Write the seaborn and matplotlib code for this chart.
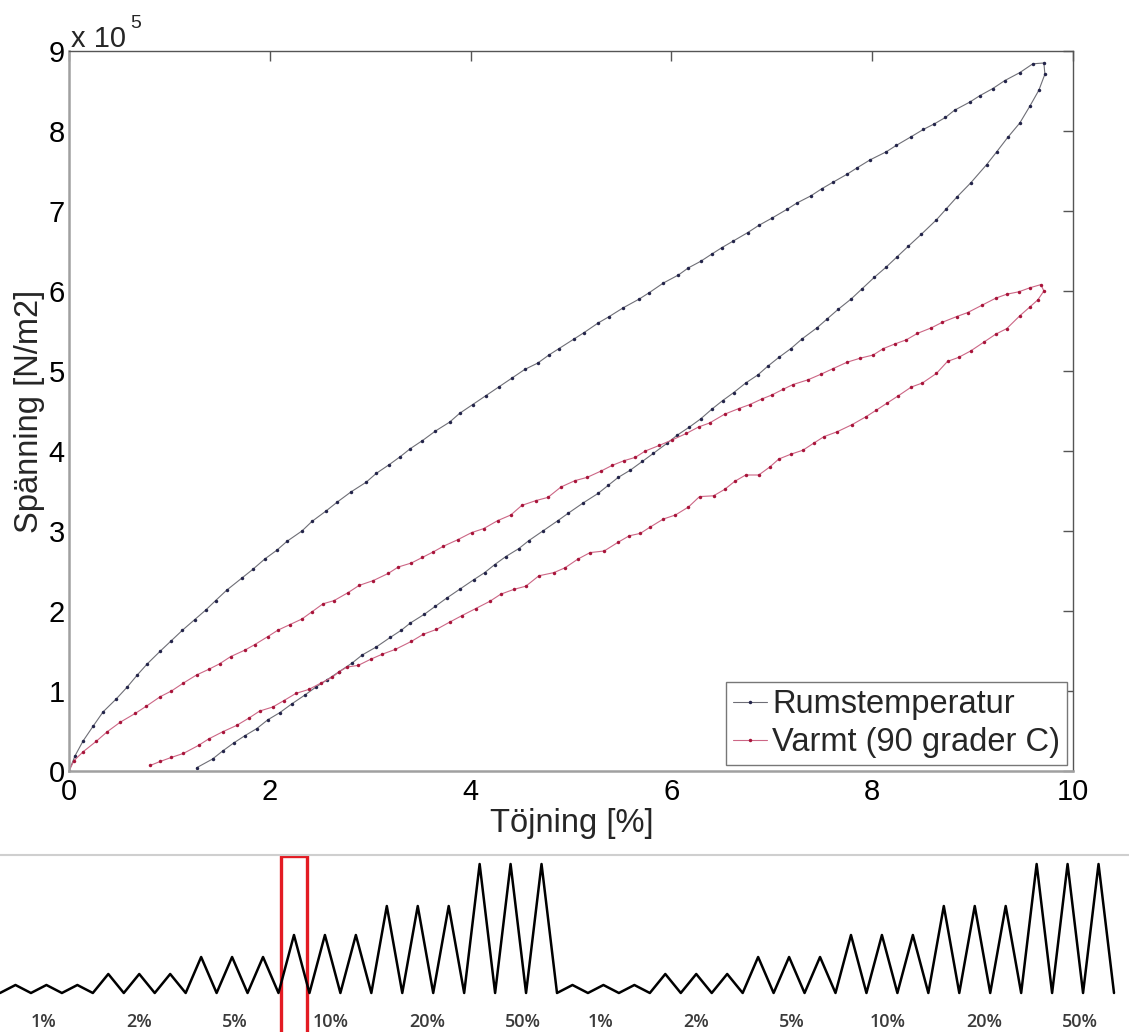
import numpy as np
import pandas as pd
import matplotlib
matplotlib.use("Agg")
import matplotlib.pyplot as plt
import seaborn as sns
from matplotlib.patches import Rectangle

# ---------------- data ----------------
# stress values in units of 1e5 N/m2, strain in %
rum_load_x = [0.00, 0.06, 0.14, 0.24, 0.34, 0.47, 0.58, 0.68, 0.78, 0.91, 1.02, 1.13, 1.25, 1.36, 1.46,
              1.57, 1.72, 1.83, 1.95, 2.07, 2.17, 2.32, 2.42, 2.56, 2.67, 2.81, 2.96, 3.06, 3.19, 3.30,
              3.40, 3.52, 3.65, 3.79, 3.89, 4.02, 4.15, 4.28, 4.41, 4.54, 4.67, 4.78, 4.88, 5.03, 5.13,
              5.27, 5.38, 5.52, 5.68, 5.78, 5.92, 6.07, 6.17, 6.29, 6.40, 6.50, 6.61, 6.76, 6.87, 7.00,
              7.15, 7.25, 7.39, 7.50, 7.61, 7.75, 7.85, 7.98, 8.14, 8.24, 8.39, 8.51, 8.62, 8.73, 8.82,
              8.97, 9.07, 9.20, 9.32, 9.47, 9.60, 9.71]
rum_load_y = [0.00, 0.19, 0.375, 0.56, 0.74, 0.90, 1.05, 1.20, 1.34, 1.50, 1.63, 1.76, 1.89, 2.01, 2.13,
              2.26, 2.41, 2.52, 2.65, 2.76, 2.87, 3.00, 3.12, 3.25, 3.36, 3.49, 3.61, 3.72, 3.83, 3.93,
              4.03, 4.13, 4.25, 4.36, 4.47, 4.58, 4.69, 4.80, 4.91, 5.02, 5.10, 5.20, 5.28, 5.40, 5.48,
              5.60, 5.68, 5.79, 5.90, 5.98, 6.10, 6.20, 6.29, 6.37, 6.46, 6.54, 6.62, 6.73, 6.82, 6.91,
              7.02, 7.10, 7.19, 7.28, 7.36, 7.46, 7.54, 7.64, 7.74, 7.82, 7.93, 8.02, 8.09, 8.17, 8.26,
              8.36, 8.44, 8.53, 8.63, 8.73, 8.84, 8.85]
rum_unload_x = [9.72, 9.66, 9.57, 9.47, 9.35, 9.24, 9.14, 8.98, 8.84, 8.74, 8.64, 8.49, 8.36, 8.25, 8.14,
                8.02, 7.90, 7.79, 7.66, 7.55, 7.45, 7.30, 7.19, 7.07, 6.96, 6.86, 6.74, 6.62, 6.51, 6.40,
                6.29, 6.18, 6.06, 5.96, 5.82, 5.71, 5.59, 5.47, 5.37, 5.27, 5.12, 4.97, 4.87, 4.72, 4.58,
                4.48, 4.35, 4.24, 4.14, 4.03, 3.89, 3.76, 3.65, 3.54, 3.40, 3.31, 3.20, 3.06, 2.92, 2.82,
                2.69, 2.57, 2.46, 2.35, 2.22, 2.10, 1.98, 1.87, 1.75, 1.64, 1.53, 1.43, 1.27]
rum_unload_y = [8.71, 8.51, 8.31, 8.10, 7.92, 7.74, 7.58, 7.35, 7.17, 7.03, 6.89, 6.71, 6.56, 6.43, 6.30,
                6.17, 6.03, 5.90, 5.77, 5.65, 5.54, 5.40, 5.28, 5.17, 5.06, 4.95, 4.85, 4.73, 4.63, 4.52,
                4.40, 4.30, 4.20, 4.10, 3.97, 3.87, 3.76, 3.67, 3.57, 3.47, 3.35, 3.22, 3.13, 3.00, 2.88,
                2.78, 2.68, 2.58, 2.48, 2.39, 2.27, 2.16, 2.06, 1.96, 1.85, 1.76, 1.67, 1.55, 1.45, 1.35,
                1.24, 1.14, 1.05, 0.95, 0.84, 0.73, 0.64, 0.53, 0.44, 0.35, 0.25, 0.15, 0.04]

varm_load_x = [0.00, 0.05, 0.14, 0.27, 0.38, 0.51, 0.66, 0.77, 0.91, 1.02, 1.14, 1.27, 1.39, 1.50, 1.61,
               1.75, 1.85, 1.98, 2.08, 2.20, 2.32, 2.42, 2.53, 2.64, 2.78, 2.89, 3.03, 3.18, 3.28, 3.41,
               3.52, 3.63, 3.73, 3.87, 4.01, 4.13, 4.27, 4.40, 4.51, 4.65, 4.77, 4.90, 5.04, 5.16, 5.30,
               5.41, 5.53, 5.64, 5.74, 5.88, 6.01, 6.15, 6.27, 6.38, 6.53, 6.67, 6.78, 6.90, 7.00, 7.11,
               7.21, 7.36, 7.49, 7.61, 7.75, 7.88, 8.01, 8.11, 8.23, 8.34, 8.45, 8.59, 8.70, 8.84, 8.95,
               9.09, 9.23, 9.34, 9.46, 9.57, 9.68]
varm_load_y = [0.00, 0.13, 0.24, 0.37, 0.49, 0.61, 0.72, 0.81, 0.93, 1.00, 1.10, 1.20, 1.27, 1.34, 1.43,
               1.51, 1.58, 1.68, 1.76, 1.83, 1.90, 1.99, 2.09, 2.13, 2.23, 2.32, 2.38, 2.47, 2.55, 2.60,
               2.67, 2.74, 2.81, 2.89, 2.98, 3.03, 3.13, 3.20, 3.32, 3.38, 3.42, 3.55, 3.63, 3.67, 3.75,
               3.82, 3.88, 3.92, 4.00, 4.07, 4.14, 4.22, 4.30, 4.35, 4.46, 4.53, 4.58, 4.65, 4.70, 4.77,
               4.83, 4.89, 4.96, 5.03, 5.11, 5.16, 5.20, 5.28, 5.34, 5.39, 5.47, 5.54, 5.61, 5.68, 5.73,
               5.82, 5.91, 5.96, 5.99, 6.04, 6.08]
varm_unload_x = [9.71, 9.65, 9.57, 9.47, 9.34, 9.23, 9.11, 8.98, 8.86, 8.75, 8.64, 8.50, 8.39, 8.26, 8.15,
                 8.04, 7.94, 7.80, 7.65, 7.52, 7.42, 7.31, 7.19, 7.07, 6.98, 6.87, 6.74, 6.63, 6.53, 6.42,
                 6.28, 6.17, 6.04, 5.92, 5.79, 5.69, 5.58, 5.47, 5.33, 5.19, 5.07, 4.94, 4.83, 4.68, 4.55,
                 4.43, 4.30, 4.19, 4.05, 3.91, 3.79, 3.66, 3.53, 3.41, 3.25, 3.12, 3.01, 2.88, 2.77, 2.69,
                 2.62, 2.51, 2.39, 2.26, 2.14, 2.03, 1.90, 1.79, 1.67, 1.53, 1.39, 1.29, 1.14, 1.02, 0.91,
                 0.81]
varm_unload_y = [6.00, 5.89, 5.80, 5.69, 5.53, 5.46, 5.36, 5.25, 5.17, 5.12, 4.97, 4.85, 4.80, 4.69, 4.60,
                 4.51, 4.43, 4.33, 4.24, 4.18, 4.10, 4.01, 3.96, 3.90, 3.80, 3.70, 3.70, 3.62, 3.52, 3.44,
                 3.43, 3.30, 3.20, 3.15, 3.05, 2.97, 2.94, 2.86, 2.75, 2.73, 2.65, 2.54, 2.48, 2.44, 2.31,
                 2.27, 2.21, 2.12, 2.03, 1.94, 1.86, 1.77, 1.71, 1.62, 1.52, 1.46, 1.40, 1.32, 1.30, 1.24,
                 1.17, 1.10, 1.02, 0.97, 0.88, 0.80, 0.75, 0.66, 0.57, 0.49, 0.40, 0.32, 0.22, 0.17, 0.12,
                 0.07]

series_labels = ["Rumstemperatur", "Varmt (90 grader C)"]
x_ticks = [0, 2, 4, 6, 8, 10]
y_ticks = [0, 1, 2, 3, 4, 5, 6, 7, 8, 9]
stress_scale = 1e5

# loading protocol strip (schematic)
protocol_levels = ["1%", "2%", "5%", "10%", "20%", "50%"]
protocol_peak_heights = [8, 19, 36, 58, 87, 129]
cycles_per_level = 3
protocol_repeats = 2
highlight_cycle = 9

# ---------------- figure ----------------
sns.set_theme(style="white")
plt.rcParams['font.family'] = ['Liberation Sans', 'DejaVu Sans']

W, H = 1129, 1032
fig = plt.figure(figsize=(W / 100, H / 100), dpi=100)
fig.patch.set_facecolor("white")

L, R, T, B = 69, 1073, 51, 771
ax = fig.add_axes([L / W, 1 - B / H, (R - L) / W, (B - T) / H])

rum_x = rum_load_x + rum_unload_x
rum_y = [v * stress_scale for v in rum_load_y + rum_unload_y]
varm_x = varm_load_x + varm_unload_x
varm_y = [v * stress_scale for v in varm_load_y + varm_unload_y]

sns.lineplot(x=rum_x, y=rum_y, sort=False, estimator=None, ax=ax, color="#6e6e76",
             linewidth=0.8, marker="o", markersize=2.5, markerfacecolor="#23244a",
             markeredgecolor="#23244a", markeredgewidth=0, label=series_labels[0])
sns.lineplot(x=varm_x, y=varm_y, sort=False, estimator=None, ax=ax, color="#cc6685",
             linewidth=0.8, marker="o", markersize=2.5, markerfacecolor="#a8143a",
             markeredgecolor="#a8143a", markeredgewidth=0, label=series_labels[1])

ax.set_xlim(0, 10)
ax.set_ylim(0, 9 * stress_scale)
ax.set_xticks(x_ticks)
ax.set_xticklabels([str(t) for t in x_ticks])
ax.set_yticks([t * stress_scale for t in y_ticks])
ax.set_yticklabels([str(t) for t in y_ticks])

ax.tick_params(axis="both", direction="in", length=7, width=1, color="#555555",
               top=True, right=True, labelsize=21, labelcolor="black")
ax.tick_params(axis="x", pad=5)
ax.tick_params(axis="y", pad=3)

for side in ["left", "bottom"]:
    ax.spines[side].set_color("#a0a0a0")
    ax.spines[side].set_linewidth(1.8)
    ax.spines[side].set_visible(True)
for side in ["top", "right"]:
    ax.spines[side].set_color("#555555")
    ax.spines[side].set_linewidth(1.0)
    ax.spines[side].set_visible(True)

ax.set_xlabel("Töjning [%]", fontsize=23.5)
ax.xaxis.set_label_coords(0.501, -0.073)
ax.xaxis.label.set_verticalalignment("center")
ax.set_ylabel("Spänning [N/m2]", fontsize=23.5)
ax.yaxis.set_label_coords(-0.039, 0.499)
ax.yaxis.label.set_verticalalignment("center")

# exponent note
fig.text(71 / W, 1 - 47 / H, "x 10", fontsize=21, ha="left", va="baseline")
fig.text(130 / W, 1 - 28 / H, "5", fontsize=14, ha="left", va="baseline")

leg = ax.legend(loc="lower right", fontsize=23.5, handlelength=1.05, handletextpad=0.15,
                borderpad=0.22, labelspacing=0.2, borderaxespad=0.18, frameon=True,
                fancybox=False, framealpha=1, edgecolor="#777777")
leg.get_frame().set_linewidth(1.0)

# ---------------- protocol strip ----------------
strip_top = 855
ax2 = fig.add_axes([0, 0, 1, (H - strip_top) / H])
total_cycles = protocol_repeats * len(protocol_levels) * cycles_per_level
ax2.set_xlim(0, total_cycles * W / 1114)
ax2.set_ylim(-39, 138)

wx, wy = [0.0], [0.0]
t = 0
for rep in range(protocol_repeats):
    for h in protocol_peak_heights:
        for c in range(cycles_per_level):
            wx += [t + 0.5, t + 1.0]
            wy += [h, 0]
            t += 1
sns.lineplot(x=wx, y=wy, sort=False, estimator=None, ax=ax2, color="black", linewidth=1.8)

for rep in range(protocol_repeats):
    for k, lab in enumerate(protocol_levels):
        xc = rep * len(protocol_levels) * cycles_per_level + cycles_per_level * k + 1.4 + 0.1 * k
        ax2.text(xc, -29, lab, ha="center", va="center", fontsize=13, fontweight="semibold",
                 color="#3a3a3a", family="Open Sans")

ax2.add_patch(Rectangle((highlight_cycle + 0.5 - 0.41, -70), 0.82, 70 + 137.5, fill=False,
                        edgecolor="#e31b23", linewidth=2.4, clip_on=True))

ax2.set_xticks([])
ax2.set_yticks([])
for side in ["left", "right", "bottom"]:
    ax2.spines[side].set_visible(False)
ax2.spines["top"].set_visible(True)
ax2.spines["top"].set_color("#cfcfcf")
ax2.spines["top"].set_linewidth(1.5)
ax2.set_facecolor("none")

fig.savefig("out.png", dpi=100, facecolor="white")
